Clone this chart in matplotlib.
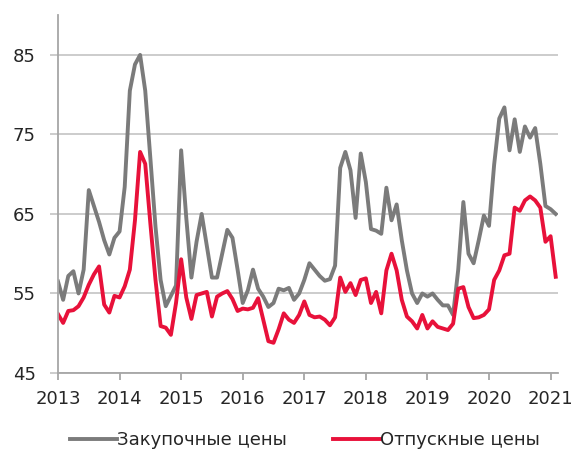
import numpy as np
import matplotlib.pyplot as plt

# monthly data, Jan 2013 .. Feb 2021
purchase = [56.5, 54.2, 57.2, 57.8, 55.0, 58.0, 68.0, 66.0, 64.0, 61.7, 59.9, 62.0,
            62.8, 68.4, 80.5, 83.8, 85.0, 80.5, 72.0, 63.4, 56.7, 53.4, 54.7, 56.0,
            73.0, 64.5, 57.0, 61.5, 65.0, 61.0, 57.0, 57.0, 60.0, 63.0, 62.0, 58.0,
            53.8, 55.4, 58.0, 55.6, 54.6, 53.3, 53.8, 55.6, 55.4, 55.7, 54.2, 55.0,
            56.7, 58.8, 58.0, 57.2, 56.6, 56.8, 58.5, 70.8, 72.8, 70.5, 64.5, 72.6,
            69.0, 63.1, 62.9, 62.5, 68.3, 64.2, 66.2, 61.7, 57.9, 55.0, 53.8, 55.0,
            54.6, 55.0, 54.2, 53.5, 53.5, 52.3, 58.0, 66.5, 60.0, 58.8, 61.7, 64.8,
            63.5, 71.2, 77.0, 78.4, 73.0, 76.9, 72.8, 76.0, 74.6, 75.8, 71.3, 66.0,
            65.6, 65.0]
selling = [52.4, 51.3, 52.8, 52.9, 53.4, 54.5, 56.1, 57.4, 58.4, 53.6, 52.6, 54.7,
           54.5, 55.9, 58.0, 64.2, 72.8, 71.3, 63.8, 56.7, 50.9, 50.7, 49.8, 53.8,
           59.3, 54.5, 51.8, 54.8, 55.0, 55.2, 52.1, 54.6, 55.0, 55.3, 54.3, 52.8,
           53.1, 53.0, 53.2, 54.4, 51.7, 49.0, 48.8, 50.5, 52.5, 51.7, 51.3, 52.3,
           54.0, 52.3, 52.0, 52.1, 51.7, 51.0, 52.0, 57.0, 55.2, 56.3, 54.8, 56.7,
           56.9, 53.8, 55.2, 52.5, 57.9, 60.0, 57.9, 54.2, 52.1, 51.5, 50.6, 52.3,
           50.6, 51.5, 50.8, 50.6, 50.4, 51.2, 55.6, 55.8, 53.3, 51.9, 52.0, 52.3,
           53.0, 56.7, 57.9, 59.8, 60.0, 65.8, 65.4, 66.7, 67.2, 66.7, 65.8, 61.5,
           62.2, 57.1]
years = list(range(2013, 2022))
yticks = [45, 55, 65, 75, 85]

t = 2013 + np.arange(len(purchase)) / 12

plt.rcParams['font.family'] = ['DejaVu Sans']

fig = plt.figure(figsize=(5.76, 4.53), dpi=100)
ax = fig.add_axes([0.1007, 0.1766, 0.868, 0.79])

ax.plot(t, purchase, color='#7b7b7b', lw=2.8, label='Закупочные цены', solid_joinstyle='round')
ax.plot(t, selling, color='#e8113a', lw=2.8, label='Отпускные цены', solid_joinstyle='round')

ax.set_xlim(2013, 2021.12)
ax.set_ylim(45, 90)
ax.set_xticks(years)
ax.set_yticks(yticks)
ax.grid(axis='y', color='#c8c8c8', lw=1.3)
ax.set_axisbelow(True)

for s in ['top', 'right']:
    ax.spines[s].set_visible(False)
for s in ['left', 'bottom']:
    ax.spines[s].set_color('#a6a6a6')
    ax.spines[s].set_linewidth(1.3)

ax.tick_params(axis='y', length=6, color='#c8c8c8', width=1.3, pad=10, labelsize=13, labelcolor='#262626')
ax.tick_params(axis='x', length=5, color='#a6a6a6', width=1.3, pad=7, labelsize=13, labelcolor='#262626')

fig.legend(loc='center', bbox_to_anchor=(305 / 576, 0.029), bbox_transform=fig.transFigure,
           ncol=2, frameon=False, fontsize=13, handlelength=2.6, handletextpad=0.0,
           columnspacing=2.6, labelcolor='#262626')

fig.savefig('out.png', dpi=100)
